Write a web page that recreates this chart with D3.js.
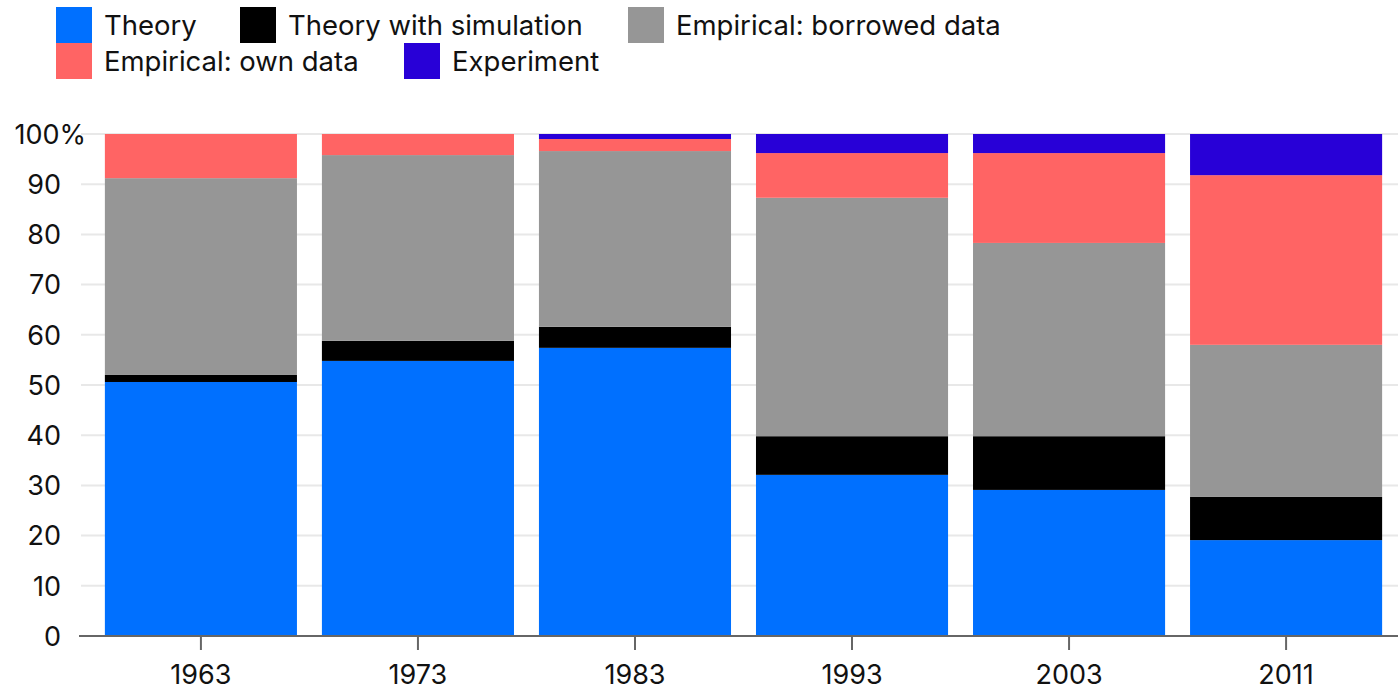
<!DOCTYPE html>
<html>
<head>
<meta charset="utf-8">
<script src="https://cdn.jsdelivr.net/npm/d3@7"></script>
<style>
  body { margin: 0; background: #fff; }
  text { font-family: Inter, "Noto Sans", sans-serif; }
</style>
</head>
<body>
<svg id="chart" width="1398" height="692"></svg>
<script>
// Share of papers by method, per year (percent)
var years = ["1963", "1973", "1983", "1993", "2003", "2011"];
var theory      = [50.6, 54.8, 57.4, 32.1, 29.1, 19.1];
var theorySim   = [1.4,  4.0,  4.2,  7.7,  10.7, 8.6];
var borrowed    = [39.2, 37.0, 35.0, 47.5, 38.5, 30.3];
var ownData     = [8.8,  4.2,  2.4,  8.9,  17.9, 33.8];
var experiment  = [0.0,  0.0,  1.0,  3.8,  3.8,  8.2];
var yTicks = [0, 10, 20, 30, 40, 50, 60, 70, 80, 90, 100];

var keys = ["theory", "theorySim", "borrowed", "ownData", "experiment"];
var labels = {
  theory: "Theory",
  theorySim: "Theory with simulation",
  borrowed: "Empirical: borrowed data",
  ownData: "Empirical: own data",
  experiment: "Experiment"
};
var colors = {
  theory: "#0070ff",
  theorySim: "#000000",
  borrowed: "#969696",
  ownData: "#ff6464",
  experiment: "#2800d7"
};

var rows = years.map(function(y, i) {
  return { year: y, theory: theory[i], theorySim: theorySim[i], borrowed: borrowed[i],
           ownData: ownData[i], experiment: experiment[i] };
});

var svg = d3.select("#chart");

var x = d3.scaleBand()
    .domain(years)
    .range([81, 1406])
    .paddingInner(0.115)
    .paddingOuter(0.11);

var y = d3.scaleLinear()
    .domain([0, 100])
    .range([636, 134]);

// gridlines
svg.append("g")
  .selectAll("line")
  .data(yTicks.filter(function(d) { return d > 0; }))
  .enter().append("line")
    .attr("x1", 81)
    .attr("x2", 1398)
    .attr("y1", function(d) { return y(d); })
    .attr("y2", function(d) { return y(d); })
    .attr("stroke", "#e8e8e8")
    .attr("stroke-width", 2);

// y labels
svg.append("g")
  .selectAll("text")
  .data(yTicks)
  .enter().append("text")
    .attr("x", function(d) { return d === 100 ? 86 : 61; })
    .attr("y", function(d) { return y(d); })
    .attr("dy", "0.36em")
    .attr("text-anchor", "end")
    .attr("font-size", 27)
    .attr("fill", "#111")
    .text(function(d) { return d === 100 ? "100%" : d; });

// stacked bars
var series = d3.stack().keys(keys)(rows);

svg.append("g")
  .selectAll("g")
  .data(series)
  .enter().append("g")
    .attr("fill", function(d) { return colors[d.key]; })
  .selectAll("rect")
  .data(function(d) { return d; })
  .enter().append("rect")
    .attr("x", function(d) { return x(d.data.year); })
    .attr("width", x.bandwidth())
    .attr("y", function(d) { return y(d[1]); })
    .attr("height", function(d) { return y(d[0]) - y(d[1]); });

// x axis
var xAxis = svg.append("g")
    .attr("transform", "translate(0,636)")
    .call(d3.axisBottom(x).tickSize(14).tickPadding(15));
xAxis.select(".domain")
    .attr("d", "M79,0H1398")
    .attr("stroke", "#666")
    .attr("stroke-width", 2);
xAxis.selectAll(".tick line").attr("stroke", "#666").attr("stroke-width", 2);
xAxis.selectAll(".tick text")
    .attr("font-size", 27)
    .attr("font-family", "Inter, 'Noto Sans', sans-serif")
    .attr("fill", "#111");

// legend
var legendItems = [
  { key: "theory", x: 56, row: 0 },
  { key: "theorySim", x: 240, row: 0 },
  { key: "borrowed", x: 628, row: 0 },
  { key: "ownData", x: 56, row: 1 },
  { key: "experiment", x: 404, row: 1 }
];
var legend = svg.append("g")
  .selectAll("g")
  .data(legendItems)
  .enter().append("g")
    .attr("transform", function(d) { return "translate(" + d.x + "," + (7 + d.row * 36) + ")"; });
legend.append("rect")
    .attr("width", 36)
    .attr("height", 36)
    .attr("fill", function(d) { return colors[d.key]; });
legend.append("text")
    .attr("x", 48)
    .attr("y", 18)
    .attr("dy", "0.36em")
    .attr("font-size", 27.5)
    .attr("fill", "#111")
    .text(function(d) { return labels[d.key]; });
</script>
</body>
</html>
